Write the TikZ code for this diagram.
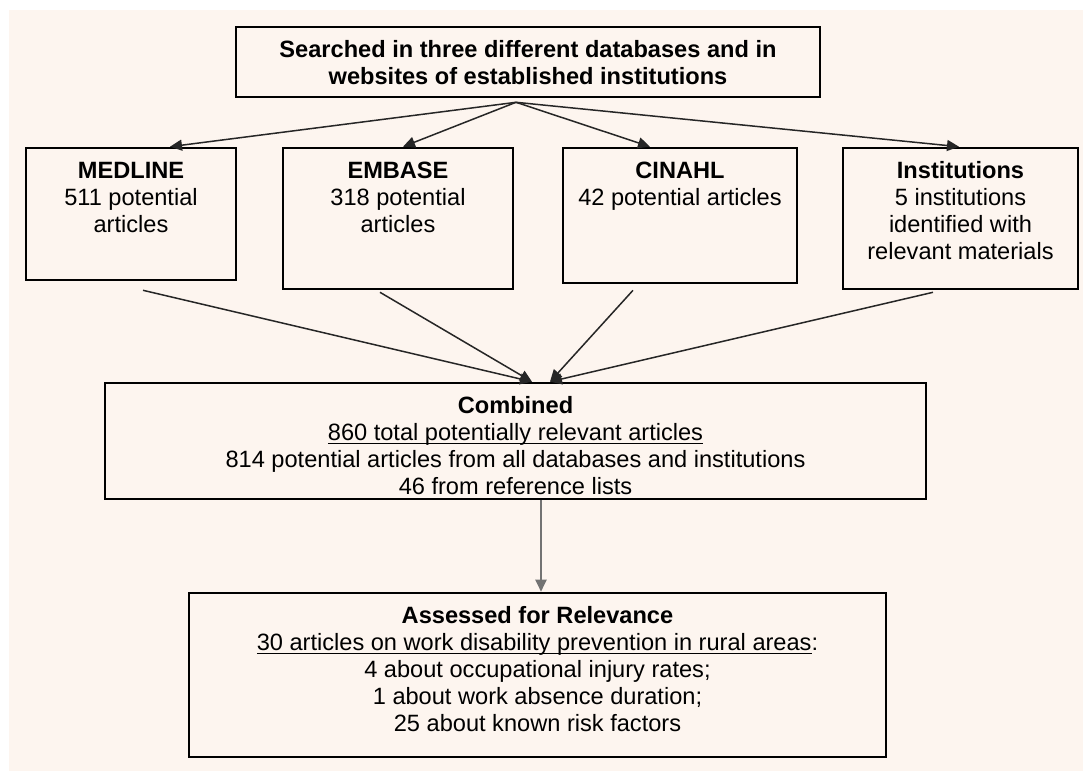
\documentclass[tikz,border=0pt]{standalone}
\usepackage{fontspec}
\setmainfont{Liberation Sans}
\usetikzlibrary{arrows.meta}
\definecolor{paper}{HTML}{FDF5EF}
\newcommand{\cellbox}[3]{\parbox[c][#2][t]{#1}{\centering\vspace*{5.8pt}\strut#3}}
\newcommand{\uln}[1]{$\underline{\smash{\text{#1}}}$}
\usepackage{amsmath}

\begin{document}
\begin{tikzpicture}[x=0.5pt,y=-0.5pt, font=\fontsize{11.8}{13.5}\selectfont,
  stage/.style={draw,line width=1.3pt,inner sep=0pt},
  link/.style={draw=black!85,line width=0.75pt,-{Triangle[length=6pt,width=5.5pt]}}]
\useasboundingbox (0,0) rectangle (1083,771);
\fill[paper] (9,10) rectangle (1083,771);
% search and sources
\node[stage] (search) at (528,62) {\cellbox{292pt}{35pt}{\textbf{Searched in three different databases and in\\websites of established institutions}}};
\node[stage] (med) at (131,214) {\cellbox{105pt}{66pt}{\textbf{MEDLINE}\\511 potential\\articles}};
\node[stage] (emb) at (398,218.5) {\cellbox{115pt}{70.5pt}{\textbf{EMBASE}\\318 potential\\articles}};
\node[stage] (cin) at (680,215.5) {\cellbox{117pt}{67.5pt}{\textbf{CINAHL}\\42 potential articles}};
\node[stage] (inst) at (960.5,218.5) {\cellbox{117.5pt}{70.5pt}{\textbf{Institutions}\\5 institutions\\identified with\\relevant materials}};
% combined and assessed
\node[stage] (comb) at (515.5,441) {\cellbox{410.5pt}{58pt}{\textbf{Combined}\\\uln{860 total potentially relevant articles}\\814 potential articles from all databases and institutions\\46 from reference lists}};
\node[stage] (assess) at (537.5,675) {\cellbox{348.5pt}{82pt}{\textbf{Assessed for Relevance}\\\uln{30 articles on work disability prevention in rural areas}:\\4 about occupational injury rates;\\1 about work absence duration;\\25 about known risk factors}};
\coordinate (split) at ([shift={(-12,4)}]search.south);
\draw[link] (split) -- ([shift={(39,0)}]med.north);
\draw[link] (split) -- ([shift={(5,0)}]emb.north);
\draw[link] (split) -- ([shift={(-30,0)}]cin.north);
\draw[link] (split) -- ([shift={(-1.5,0)}]inst.north);
\draw[link] ([shift={(12,9)}]med.south) -- ([shift={(16.5,0)}]comb.north);
\draw[link] ([shift={(-18,2)}]emb.south) -- ([shift={(16.5,0)}]comb.north);
\draw[link] ([shift={(-47,6)}]cin.south) -- ([shift={(34.5,0)}]comb.north);
\draw[link] ([shift={(-27.5,2)}]inst.south) -- ([shift={(34.5,0)}]comb.north);
\draw[link,draw=black!55,line width=1pt] ([shift={(25.5,0)}]comb.south) -- ([shift={(3.5,0)}]assess.north);
\end{tikzpicture}
\end{document}
